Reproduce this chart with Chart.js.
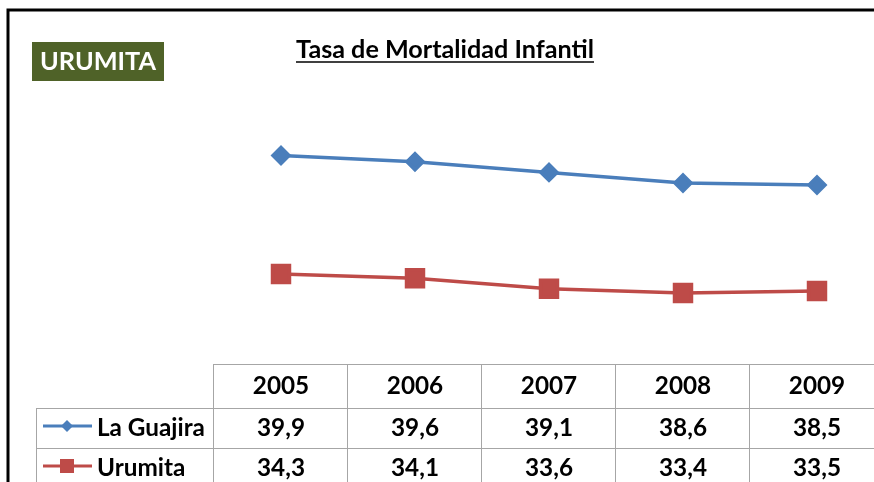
<!DOCTYPE html>
<html>
<head>
<meta charset="utf-8">
<script src="https://cdn.jsdelivr.net/npm/chart.js@4"></script>
<style>
html, body { margin: 0; padding: 0; background: #fff; overflow: hidden; }
#wrap { width: 900px; height: 482px; position: relative; }
</style>
</head>
<body>
<div id="wrap"><canvas id="chart"></canvas></div>
<script>
const years = ['2005', '2006', '2007', '2008', '2009'];
const guajira = [39.9, 39.6, 39.1, 38.6, 38.5];
const urumita = [34.3, 34.1, 33.6, 33.4, 33.5];
const seriesNames = ['La Guajira', 'Urumita'];
const chartTitle = 'Tasa de Mortalidad Infantil';
const badgeText = 'URUMITA';

const blue = '#4a7ebb';
const red = '#be4b48';
const gridGray = '#a6a6a6';
const FONT = 'Lato, "Open Sans", sans-serif';

// font size that makes text span a given width
function fitSize(ctx, text, width) {
    ctx.font = 'bold 100px ' + FONT;
    return 100 * width / ctx.measureText(text).width;
}

function fmt(v) {
    return v.toFixed(1).replace('.', ',');
}

// draws border, badge, title and the data table under the plot
const decorations = {
    id: 'decorations',
    afterDraw(chart) {
        const ctx = chart.ctx;
        const area = chart.chartArea;
        const x = chart.scales.x;
        const colW = (area.right - area.left) / years.length;
        ctx.save();

        // frame
        ctx.strokeStyle = '#000';
        ctx.lineWidth = 3;
        ctx.beginPath();
        ctx.moveTo(8, 482);
        ctx.lineTo(8, 10);
        ctx.lineTo(900, 10);
        ctx.stroke();

        // badge
        ctx.fillStyle = '#4f6228';
        ctx.fillRect(32, 42, 132, 39);
        let s = fitSize(ctx, badgeText, 116);
        ctx.font = 'bold ' + s + 'px ' + FONT;
        ctx.fillStyle = '#fff';
        ctx.textAlign = 'center';
        ctx.textBaseline = 'middle';
        ctx.fillText(badgeText, 98, 62);

        // title
        s = fitSize(ctx, chartTitle, 298);
        ctx.font = 'bold ' + s + 'px ' + FONT;
        ctx.fillStyle = '#000';
        ctx.textBaseline = 'alphabetic';
        ctx.fillText(chartTitle, 445, 58);
        ctx.lineWidth = 1.5;
        ctx.beginPath();
        ctx.moveTo(296, 62);
        ctx.lineTo(594, 62);
        ctx.stroke();

        // table grid
        const top = 364;
        const rows = [top, top + 44, top + 84, top + 124];
        const legendLeft = 36;
        ctx.strokeStyle = gridGray;
        ctx.lineWidth = 1;
        ctx.beginPath();
        ctx.moveTo(area.left, rows[0] + 0.5);
        ctx.lineTo(area.right, rows[0] + 0.5);
        for (let r = 1; r < 3; r++) {
            ctx.moveTo(legendLeft, rows[r] + 0.5);
            ctx.lineTo(area.right, rows[r] + 0.5);
        }
        ctx.moveTo(legendLeft + 0.5, rows[1]);
        ctx.lineTo(legendLeft + 0.5, rows[3]);
        for (let i = 0; i <= years.length; i++) {
            const cx = Math.round(area.left + i * colW) - 0.5;
            ctx.moveTo(cx, rows[0]);
            ctx.lineTo(cx, rows[3]);
        }
        ctx.stroke();

        // table text
        s = fitSize(ctx, seriesNames[0], 108);
        ctx.font = 'bold ' + s + 'px ' + FONT;
        ctx.fillStyle = '#000';
        ctx.textBaseline = 'middle';
        ctx.textAlign = 'center';
        years.forEach((y, i) => {
            const cx = x.getPixelForValue(i);
            ctx.fillText(y, cx, (rows[0] + rows[1]) / 2);
            ctx.fillText(fmt(guajira[i]), cx, (rows[1] + rows[2]) / 2);
            ctx.fillText(fmt(urumita[i]), cx, (rows[2] + rows[3]) / 2);
        });

        // legend keys
        const keys = [
            { color: blue, shape: 'diamond' },
            { color: red, shape: 'square' }
        ];
        keys.forEach((k, r) => {
            const cy = (rows[r + 1] + rows[r + 2]) / 2 - 2;
            ctx.strokeStyle = k.color;
            ctx.fillStyle = k.color;
            ctx.lineWidth = 3;
            ctx.beginPath();
            ctx.moveTo(43, cy);
            ctx.lineTo(92, cy);
            ctx.stroke();
            ctx.beginPath();
            if (k.shape === 'diamond') {
                ctx.moveTo(67, cy - 6);
                ctx.lineTo(73, cy);
                ctx.lineTo(67, cy + 6);
                ctx.lineTo(61, cy);
                ctx.closePath();
            } else {
                ctx.rect(60, cy - 7, 14, 14);
            }
            ctx.fill();
            ctx.fillStyle = '#000';
            ctx.textAlign = 'left';
            ctx.fillText(seriesNames[r], 97, cy + 2);
        });

        ctx.restore();
    }
};

new Chart(document.getElementById('chart'), {
    type: 'line',
    data: {
        labels: years,
        datasets: [{
            label: seriesNames[0],
            data: guajira,
            borderColor: blue,
            backgroundColor: blue,
            borderWidth: 3.5,
            pointStyle: 'rectRot',
            pointRadius: 8,
            pointHoverRadius: 8,
            tension: 0
        }, {
            label: seriesNames[1],
            data: urumita,
            borderColor: red,
            backgroundColor: red,
            borderWidth: 3.5,
            pointStyle: 'rect',
            pointRadius: 12,
            pointHoverRadius: 12,
            tension: 0
        }]
    },
    options: {
        responsive: true,
        maintainAspectRatio: false,
        animation: false,
        layout: {
            padding: { left: 214, right: 16, top: 111, bottom: 117 }
        },
        scales: {
            x: { display: false, offset: true },
            y: { display: false, min: 30, max: 42 }
        },
        plugins: {
            legend: { display: false },
            tooltip: { enabled: false }
        }
    },
    plugins: [decorations]
});
</script>
</body>
</html>
